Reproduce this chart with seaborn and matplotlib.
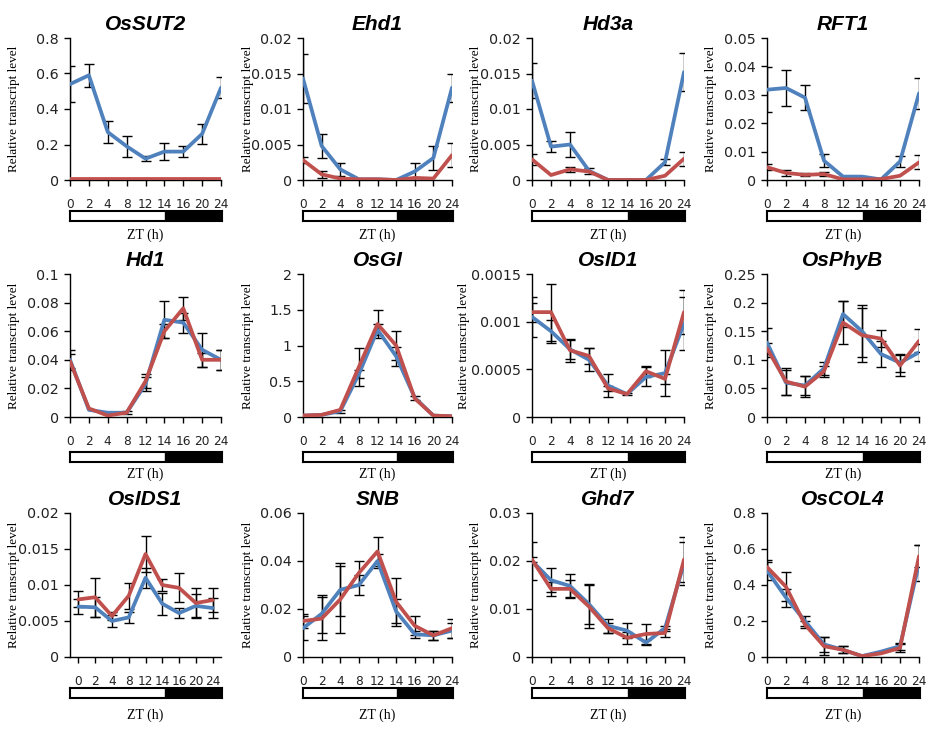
import numpy as np
import pandas as pd
import matplotlib
matplotlib.use("Agg")
import matplotlib.pyplot as plt
import seaborn as sns
from matplotlib.ticker import FuncFormatter

# time points (ZT, h) - plotted as equally spaced categories
zt = ['0', '2', '4', '8', '12', '14', '16', '20', '24']

genes = ['OsSUT2', 'Ehd1', 'Hd3a', 'RFT1',
         'Hd1', 'OsGI', 'OsID1', 'OsPhyB',
         'OsIDS1', 'SNB', 'Ghd7', 'OsCOL4']
ymax = [0.8, 0.02, 0.02, 0.05,
        0.1, 2, 0.0015, 0.25,
        0.02, 0.06, 0.03, 0.8]
ystep = [0.2, 0.005, 0.005, 0.01,
         0.02, 0.5, 0.0005, 0.05,
         0.005, 0.02, 0.01, 0.2]

# blue series / red series and their error bars
blue_OsSUT2 = [0.54, 0.59, 0.27, 0.19, 0.12, 0.16, 0.16, 0.26, 0.52]
blue_err_OsSUT2 = [0.10, 0.065, 0.06, 0.06, 0.015, 0.05, 0.03, 0.055, 0.06]
red_OsSUT2 = [0.003, 0.003, 0.003, 0.003, 0.003, 0.003, 0.003, 0.003, 0.003]
red_err_OsSUT2 = [0, 0, 0, 0, 0, 0, 0, 0, 0]

blue_Ehd1 = [0.0143, 0.0048, 0.0015, 0.0001, 0.0001, 0.0, 0.0012, 0.0031, 0.013]
blue_err_Ehd1 = [0.0035, 0.0017, 0.0009, 0, 0, 0, 0.0012, 0.0017, 0.002]
red_Ehd1 = [0.0028, 0.0008, 0.0002, 0.0001, 0.0001, 0.0, 0.0003, 0.0002, 0.0035]
red_err_Ehd1 = [0.0004, 0.0005, 0, 0, 0, 0, 0, 0, 0.0017]

blue_Hd3a = [0.014, 0.0047, 0.005, 0.0013, 0.0, 0.0, 0.0, 0.0025, 0.0152]
blue_err_Hd3a = [0.0025, 0.0008, 0.0018, 0.0004, 0, 0, 0, 0.0004, 0.0027]
red_Hd3a = [0.0029, 0.0007, 0.0015, 0.0012, 0.0, 0.0, 0.0, 0.0006, 0.003]
red_err_Hd3a = [0.0008, 0, 0.0004, 0, 0, 0, 0, 0, 0.001]

blue_RFT1 = [0.0318, 0.0324, 0.029, 0.0068, 0.0012, 0.0012, 0.0002, 0.0065, 0.0305]
blue_err_RFT1 = [0.008, 0.0063, 0.0043, 0.0023, 0, 0, 0, 0.002, 0.0055]
red_RFT1 = [0.0045, 0.0025, 0.0018, 0.0021, 0.0002, 0.0002, 0.0003, 0.0015, 0.0062]
red_err_RFT1 = [0.001, 0.001, 0.0005, 0.0008, 0, 0, 0, 0, 0.0025]

blue_Hd1 = [0.040, 0.005, 0.003, 0.003, 0.023, 0.068, 0.066, 0.047, 0.040]
blue_err_Hd1 = [0.007, 0, 0, 0.001, 0.005, 0.013, 0.007, 0.012, 0.007]
red_Hd1 = [0.039, 0.006, 0.001, 0.003, 0.025, 0.060, 0.076, 0.040, 0.040]
red_err_Hd1 = [0.005, 0, 0, 0, 0.005, 0.005, 0.008, 0.005, 0.007]

blue_OsGI = [0.02, 0.03, 0.08, 0.60, 1.22, 0.85, 0.27, 0.02, 0.01]
blue_err_OsGI = [0, 0, 0.02, 0.06, 0.08, 0.13, 0.03, 0, 0]
red_OsGI = [0.02, 0.03, 0.10, 0.70, 1.30, 1.00, 0.26, 0.02, 0.01]
red_err_OsGI = [0, 0, 0, 0.27, 0.19, 0.20, 0, 0, 0]

blue_OsID1 = [0.00105, 0.0009, 0.00071, 0.0006, 0.00033, 0.00024, 0.00042, 0.00046, 0.00098]
blue_err_OsID1 = [0.00021, 0.00012, 0.0001, 0.00012, 0.00012, 0.00001, 0.0001, 0.00024, 0.00028]
red_OsID1 = [0.0011, 0.0011, 0.0007, 0.00064, 0.0003, 0.00024, 0.00048, 0.0004, 0.0011]
red_err_OsID1 = [0.0001, 0.0003, 0.00012, 0.00008, 0.00003, 0, 0.00006, 0.00005, 0.00023]

blue_OsPhyB = [0.13, 0.060, 0.055, 0.085, 0.180, 0.150, 0.110, 0.095, 0.113]
blue_err_OsPhyB = [0.025, 0.022, 0.017, 0.012, 0.023, 0.045, 0.022, 0.016, 0.015]
red_OsPhyB = [0.12, 0.062, 0.053, 0.080, 0.165, 0.143, 0.137, 0.090, 0.133]
red_err_OsPhyB = [0.01, 0.023, 0.018, 0.01, 0.037, 0.047, 0.015, 0.019, 0.02]

blue_OsIDS1 = [0.0070, 0.0069, 0.0050, 0.0055, 0.0110, 0.0074, 0.0061, 0.0071, 0.0068]
blue_err_OsIDS1 = [0.001, 0.0014, 0.0008, 0.0008, 0.0014, 0.0015, 0.0007, 0.0016, 0.0014]
red_OsIDS1 = [0.0080, 0.0083, 0.0057, 0.0085, 0.0143, 0.0100, 0.0096, 0.0075, 0.0079]
red_err_OsIDS1 = [0.0011, 0.0027, 0.0005, 0.0018, 0.0025, 0.0008, 0.002, 0.0021, 0.0017]

blue_SNB = [0.012, 0.018, 0.028, 0.030, 0.040, 0.019, 0.0095, 0.009, 0.011]
blue_err_SNB = [0.005, 0.008, 0.011, 0.004, 0.003, 0.005, 0.0015, 0.002, 0.003]
red_SNB = [0.015, 0.016, 0.024, 0.035, 0.044, 0.023, 0.013, 0.009, 0.012]
red_err_SNB = [0.003, 0.009, 0.014, 0.005, 0.006, 0.010, 0.004, 0.002, 0.004]

blue_Ghd7 = [0.0200, 0.0160, 0.0148, 0.0110, 0.0065, 0.0055, 0.0030, 0.0060, 0.0195]
blue_err_Ghd7 = [0.004, 0.0025, 0.0025, 0.0042, 0.0015, 0.0015, 0.0005, 0.0005, 0.0045]
red_Ghd7 = [0.0203, 0.0142, 0.0142, 0.0105, 0.0060, 0.0040, 0.0048, 0.0050, 0.0203]
red_err_Ghd7 = [0.0005, 0.0015, 0.0018, 0.0045, 0.001, 0.0012, 0.002, 0.0008, 0.0047]

blue_OsCOL4 = [0.48, 0.33, 0.20, 0.07, 0.04, 0.005, 0.03, 0.06, 0.52]
blue_err_OsCOL4 = [0.05, 0.05, 0.03, 0.04, 0.02, 0, 0, 0.02, 0.10]
red_OsCOL4 = [0.50, 0.39, 0.18, 0.06, 0.04, 0.005, 0.02, 0.05, 0.56]
red_err_OsCOL4 = [0.04, 0.08, 0.02, 0.05, 0.02, 0, 0, 0.02, 0.06]

blue = [blue_OsSUT2, blue_Ehd1, blue_Hd3a, blue_RFT1, blue_Hd1, blue_OsGI,
        blue_OsID1, blue_OsPhyB, blue_OsIDS1, blue_SNB, blue_Ghd7, blue_OsCOL4]
blue_err = [blue_err_OsSUT2, blue_err_Ehd1, blue_err_Hd3a, blue_err_RFT1, blue_err_Hd1,
            blue_err_OsGI, blue_err_OsID1, blue_err_OsPhyB, blue_err_OsIDS1,
            blue_err_SNB, blue_err_Ghd7, blue_err_OsCOL4]
red = [red_OsSUT2, red_Ehd1, red_Hd3a, red_RFT1, red_Hd1, red_OsGI,
       red_OsID1, red_OsPhyB, red_OsIDS1, red_SNB, red_Ghd7, red_OsCOL4]
red_err = [red_err_OsSUT2, red_err_Ehd1, red_err_Hd3a, red_err_RFT1, red_err_Hd1,
           red_err_OsGI, red_err_OsID1, red_err_OsPhyB, red_err_OsIDS1,
           red_err_SNB, red_err_Ghd7, red_err_OsCOL4]

BLUE = '#4F81BD'
RED = '#C0504D'

sns.set_style("white")
plt.rcParams['font.family'] = ['DejaVu Sans']

W, H = 942, 730
fig = plt.figure(figsize=(W / 100, H / 100), dpi=100)

# pixel layout of the panels
col_left = [70, 303, 532, 767]
col_right = [221, 452, 684, 919]
row_top = [38, 274, 513]
row_bot = [180, 417, 657]
bar_top = [211, 452, 688]
zt_y = [235, 474, 715]

x = np.arange(len(zt))


def add_err(ax, xs, ys, es):
    xs, ys, es = np.asarray(xs), np.asarray(ys), np.asarray(es)
    m = es > 0
    ax.errorbar(xs[m], ys[m], yerr=es[m], fmt='none', ecolor='black',
                elinewidth=1, capsize=3.5, capthick=1, zorder=1)


for i, g in enumerate(genes):
    r, c = divmod(i, 4)
    l, rr = col_left[c], col_right[c]
    ax = fig.add_axes([l / W, 1 - row_bot[r] / H, (rr - l) / W, (row_bot[r] - row_top[r]) / H])

    df = pd.DataFrame({'x': np.concatenate([x, x]),
                       'y': np.concatenate([blue[i], red[i]]),
                       'line': ['b'] * len(zt) + ['r'] * len(zt)})
    add_err(ax, x, blue[i], blue_err[i])
    add_err(ax, x, red[i], red_err[i])
    sns.lineplot(data=df, x='x', y='y', hue='line', palette={'b': BLUE, 'r': RED},
                 linewidth=2.7, legend=False, ax=ax, zorder=3)

    if g == 'OsIDS1':
        ax.set_xlim(-0.5, len(zt) - 0.5)
    else:
        ax.set_xlim(0, len(zt) - 1)
    ax.set_ylim(0, ymax[i])
    ax.set_yticks(np.arange(0, ymax[i] + ystep[i] / 2, ystep[i]))
    ax.yaxis.set_major_formatter(FuncFormatter(lambda v, p: '%g' % round(v, 6)))
    ax.set_xticks(x)
    ax.set_xticklabels(zt)
    ax.tick_params(axis='x', direction='out', length=4, width=1, pad=9, labelsize=8.7,
                   colors='black', labelcolor='#222222')
    ax.tick_params(axis='y', direction='out', length=4, width=1, pad=4, labelsize=10.3,
                   colors='black', labelcolor='#222222')
    ax.tick_params(bottom=True, left=True)
    for s in ['top', 'right']:
        ax.spines[s].set_visible(False)
    for s in ['left', 'bottom']:
        ax.spines[s].set_color('black')
        ax.spines[s].set_linewidth(1)
    ax.set_xlabel('')
    ax.set_ylabel('Relative transcript level', family='Liberation Serif', fontsize=9.5,
                  color='black')
    ax.yaxis.set_label_coords(-0.41 if g == 'OsID1' else -0.33, 0.5)
    ax.set_title(g, fontsize=15, fontweight='bold', style='italic',
                 family='Liberation Sans', pad=6, color='black')

    # light / dark bar under the axis
    bx = fig.add_axes([l / W, 1 - (bar_top[r] + 10) / H, (rr + 1 - l) / W, 10 / H])
    bx.set_xlim(0, len(zt) - 1)
    bx.set_ylim(0, 1)
    bx.axvspan(0, zt.index('14'), color='white')
    bx.axvspan(zt.index('14'), len(zt) - 1, color='black')
    bx.set_xticks([])
    bx.set_yticks([])
    for s in bx.spines.values():
        s.set_visible(True)
        s.set_color('black')
        s.set_linewidth(1.5)
    fig.text((l + rr) / 2 / W, 1 - zt_y[r] / H, 'ZT (h)', ha='center', va='center',
             family='Liberation Serif', fontsize=10, color='black')

fig.savefig('out.png', dpi=100)
